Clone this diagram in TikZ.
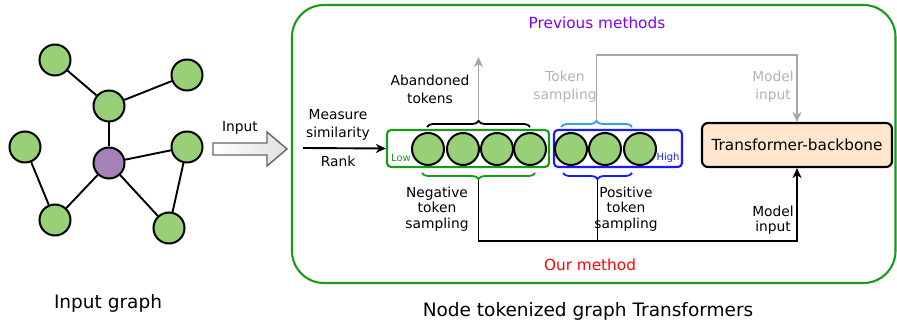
\documentclass[tikz,border=0pt]{standalone}
\usepackage{fontspec}
\setmainfont{DejaVu Sans}
\usetikzlibrary{decorations.pathreplacing,arrows.meta,calc}
\definecolor{ngreen}{HTML}{97D077}
\definecolor{npurple}{HTML}{A680B8}
\definecolor{bgreen}{HTML}{1A9A1A}
\definecolor{bblue}{HTML}{1A1AFF}
\definecolor{lblue}{HTML}{3399FF}
\definecolor{gline}{HTML}{A6A6A6}
\definecolor{gtext}{HTML}{B3B3B3}
\definecolor{ptext}{HTML}{7F00FF}
\definecolor{peach}{HTML}{FFE6CC}
\tikzset{
  gnode/.style={circle,draw=black,line width=2pt,fill=ngreen,minimum size=31pt,inner sep=0pt},
  tok/.style={circle,draw=black,line width=2pt,fill=ngreen,minimum size=32pt,inner sep=0pt},
  edge/.style={line width=1.9pt,draw=black},
  lbl/.style={font=\fontsize{13.8}{18}\selectfont,align=center,inner sep=0pt},
  lbltight/.style={font=\fontsize{13.8}{15.6}\selectfont,align=center,inner sep=0pt},
  bigtxt/.style={font=\fontsize{18.5}{22}\selectfont,inner sep=0pt},
  midtxt/.style={font=\fontsize{15.3}{18}\selectfont,inner sep=0pt},
  smalltxt/.style={font=\fontsize{10}{12}\selectfont,inner sep=0pt},
  tokbox/.style={draw,line width=2.1pt,rounded corners=4pt,minimum height=37pt,inner sep=0pt},
  brc/.style={decorate,decoration={brace,amplitude=6pt},line width=1.8pt},
  arr/.style={-{Stealth[length=10pt,width=9pt,inset=3pt]},line width=1.9pt},
}
\begin{document}
\begin{tikzpicture}[x=1pt,y=-1pt]
\useasboundingbox (0,0) rectangle (897,328);

% ---------- input graph ----------
\node[gnode] (tl) at (55,60) {};
\node[gnode] (tr) at (187,75) {};
\node[gnode] (mu) at (109,106) {};
\node[gnode] (le) at (25,147) {};
\node[gnode,fill=npurple] (pc) at (109,163) {};
\node[gnode] (ri) at (187,147) {};
\node[gnode] (bl) at (55,220) {};
\node[gnode] (br) at (169,228) {};
\draw[edge] (tl) -- (mu);
\draw[edge] (tr) -- (mu);
\draw[edge] (mu) -- (pc);
\draw[edge] (le) -- (bl);
\draw[edge] (pc) -- (bl);
\draw[edge] (pc) -- (ri);
\draw[edge] (pc) -- (br);
\draw[edge] (ri) -- (br);
\node[bigtxt] (ig) at (108,303) {Input graph};

% ---------- block arrow ----------
\draw[draw=black!60,line width=1.4pt,left color=white,right color=black!12]
  (213,143) -- (267,143) -- (267,132) -- (287,149) -- (267,166) -- (267,155) -- (213,155) -- cycle;
\node[lbl] (inp) at (240,128) {Input};

% ---------- outer container ----------
\draw[bgreen,line width=2.1pt,rounded corners=32pt] (292,5) rectangle (895.5,283);
\node[midtxt,text=ptext] (prev) at (597,23) {Previous methods};
\node[midtxt,text=red] (ours) at (590,265) {Our method};
\node[bigtxt] (ntg) at (588,311) {Node tokenized graph Transformers};

% ---------- token boxes ----------
\node[tokbox,draw=bgreen,minimum width=162pt] (gbox) at (468,148.5) {};
\node[tokbox,draw=bblue,minimum width=128pt] (bbox) at (618,148.5) {};
\node[tok] (t1) at (428,149) {};
\node[tok] (t2) at (463,149) {};
\node[tok] (t3) at (497,149) {};
\node[tok] (t4) at (530,149) {};
\node[tok] (t5) at (571,149) {};
\node[tok] (t6) at (605,149) {};
\node[tok] (t7) at (640,149) {};
\node[smalltxt,text=bgreen] (low) at (401,158) {Low};
\node[smalltxt,text=bblue] (high) at (668,158) {High};

% ---------- transformer ----------
\node[draw,line width=2.1pt,rounded corners=6pt,fill=peach,minimum width=190pt,minimum height=44pt,inner sep=0pt,midtxt] (tb) at (797,145) {Transformer-backbone};

% ---------- measure / rank ----------
\node[lbl] (ms) at (338,124.5) {Measure\\similarity};
\node[lbl] (rk) at (338,161) {Rank};
\coordinate (msin) at (303,148);
\draw[arr] (msin) -- (gbox.west);

% ---------- previous methods path ----------
\draw[brc] (427,127) -- (530,127);
\coordinate (abtip) at (478.5,120);
\coordinate (abend) at (478.5,57);
\draw[arr,gline] (abtip) -- (abend);
\node[lbl] (ab) at (430,89.5) {Abandoned\\tokens};

\draw[brc,lblue] (561,127) -- (632,127);
\coordinate (tstip) at (596.5,120);
\coordinate (pm) at (596.5,55);
\draw[arr,gline] (tstip) -- (pm) -| (tb.north);
\node[lbl,text=gtext] (ts) at (565,86.5) {Token\\sampling};
\node[lbl,text=gtext] (mi1) at (773,86.5) {Model\\input};

% ---------- our method path ----------
\draw[brc,bgreen] (535,173) -- (422,173);
\draw[brc,bblue] (632,173) -- (563,173);
\coordinate (ngtip) at (478.5,180);
\coordinate (pstip) at (597.5,180);
\coordinate (bot) at (0,241);
\draw[arr] (ngtip) -- (ngtip |- bot) -| (tb.south);
\draw[line width=1.9pt] (pstip) -- (pstip |- bot);
\node[lbltight] (neg) at (437,209) {Negative\\token\\sampling};
\node[lbltight] (pos) at (626,209) {Positive\\token\\sampling};
\node[lbltight] (mi2) at (773,220) {Model\\input};
\end{tikzpicture}
\end{document}
